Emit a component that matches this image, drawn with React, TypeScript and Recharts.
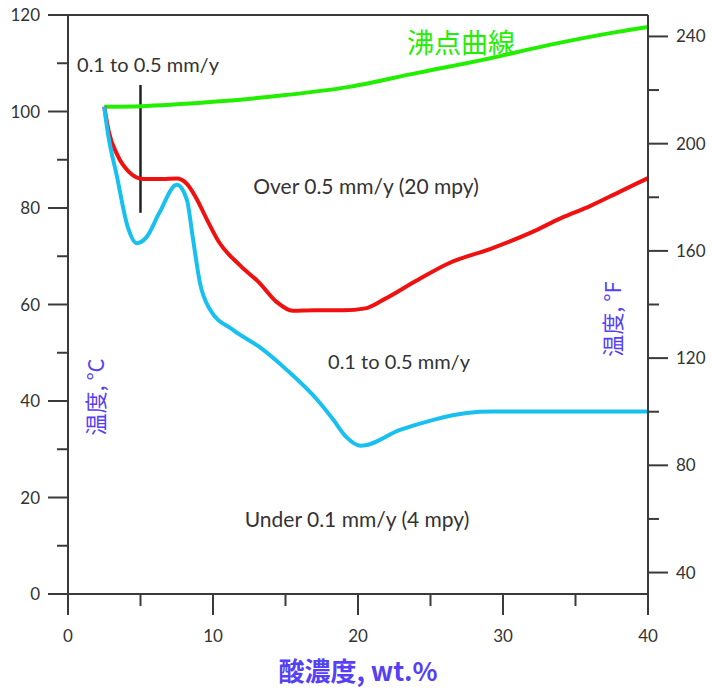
import { LineChart, Line, XAxis, YAxis, ReferenceLine } from 'recharts'

// boiling point curve (沸点曲線)
const boilX = [2.5, 5, 10, 15, 19.4, 24.1, 28.6, 33.2, 37.9, 40]
const boilC = [101, 101.1, 102, 103.4, 105.1, 108, 110.7, 113.8, 116.5, 117.5]

// 0.5 mm/y (20 mpy) iso-corrosion line
const redX = [2.5, 2.8, 3.4, 4.2, 5.2, 6.5, 7.5, 8.2, 8.8, 9.6, 10.4, 11.9, 13.2, 14.4, 15.5, 17, 19, 20.5, 21.7, 23.9, 26.3, 29.1, 32, 34, 36, 38, 40]
const redC = [101, 96, 91, 87.5, 86, 86, 86.1, 85, 82.3, 77.5, 73, 68, 64.5, 60.5, 58.7, 58.8, 58.8, 59.2, 60.9, 64.7, 68.6, 71.5, 75, 77.9, 80.4, 83.3, 86.2]

// 0.1 mm/y (4 mpy) iso-corrosion line
const cyanX = [2.5, 2.7, 3.4, 4.1, 4.75, 5.4, 6.3, 7.5, 8.2, 8.6, 9.1, 9.8, 11.4, 13.2, 15.1, 17.2, 18.3, 19.2, 20.2, 22.9, 25.2, 27.5, 29.3, 32, 36, 40]
const cyanC = [101, 96.5, 86.2, 76.3, 72.7, 73.9, 79, 84.8, 81.7, 74, 64.5, 58.9, 54.7, 51.2, 46.4, 40.2, 36.1, 32.5, 30.7, 34, 36.1, 37.5, 37.8, 37.8, 37.8, 37.8]

const xTicks = [0, 5, 10, 15, 20, 25, 30, 35, 40]
const cTicks = [0, 10, 20, 30, 40, 50, 60, 70, 80, 90, 100, 110, 120]
const fTicks = [40, 60, 80, 100, 120, 140, 160, 180, 200, 220, 240]

const toPoints = (xs: number[], ys: number[]) => xs.map((x, i) => ({ x, t: ys[i] }))

const AXIS = '#3a3a3a'
const TXT = '#333'
const FONT = 'Lato, "Open Sans", sans-serif'
const CJK = '"Noto Sans CJK JP", "Noto Sans", sans-serif'
const BLUE = '#5540f5'
const GREEN = '#22ee00'

function LeftTick({ x, y, payload }: any) {
  const major = payload.value % 20 === 0
  return (
    <g>
      <line x1={x - (major ? 20 : 11)} x2={x} y1={y} y2={y} stroke={AXIS} strokeWidth={2} />
      {major && (
        <text x={x - 28} y={y} dy={6} textAnchor="end" fontSize={17} fill={TXT} fontFamily={FONT}>
          {payload.value}
        </text>
      )}
    </g>
  )
}

function RightTick({ x, y, payload }: any) {
  const major = (payload.value - 40) % 40 === 0
  return (
    <g>
      <line x1={x} x2={x + (major ? 20 : 11)} y1={y} y2={y} stroke={AXIS} strokeWidth={2} />
      {major && (
        <text x={x + 28} y={y} dy={6} textAnchor="start" fontSize={17} fill={TXT} fontFamily={FONT}>
          {payload.value}
        </text>
      )}
    </g>
  )
}

function BottomTick({ x, y, payload }: any) {
  const major = payload.value % 10 === 0
  return (
    <g>
      <line x1={x} x2={x} y1={y} y2={y + (major ? 21 : 12)} stroke={AXIS} strokeWidth={2} />
      {major && (
        <text x={x} y={y + 48} textAnchor="middle" fontSize={17} fill={TXT} fontFamily={FONT}>
          {payload.value}
        </text>
      )}
    </g>
  )
}

export default function App() {
  return (
    <div style={{ position: 'absolute', left: 0, top: 0, width: 712, height: 693, background: '#fff' }}>
      <LineChart width={712} height={693} margin={{ top: 15, right: 0, bottom: 0, left: 0 }}>
        <XAxis
          type="number"
          dataKey="x"
          domain={[0, 40]}
          ticks={xTicks}
          interval={0}
          height={99}
          tickSize={0}
          tickMargin={0}
          tick={<BottomTick />}
          axisLine={{ stroke: AXIS, strokeWidth: 2 }}
          allowDuplicatedCategory={false}
        />
        <YAxis
          yAxisId="c"
          type="number"
          domain={[0, 120]}
          ticks={cTicks}
          interval={0}
          width={68}
          tickSize={0}
          tickMargin={0}
          tick={<LeftTick />}
          axisLine={{ stroke: AXIS, strokeWidth: 2 }}
          allowDataOverflow
        />
        <YAxis
          yAxisId="f"
          orientation="right"
          type="number"
          domain={[32, 248]}
          ticks={fTicks}
          interval={0}
          width={64}
          tickSize={0}
          tickMargin={0}
          tick={<RightTick />}
          axisLine={{ stroke: AXIS, strokeWidth: 2 }}
          allowDataOverflow
        />
        <ReferenceLine yAxisId="c" y={120} stroke={AXIS} strokeWidth={2} />
        <ReferenceLine
          yAxisId="c"
          segment={[{ x: 5, y: 105.5 }, { x: 5, y: 79 }]}
          stroke="#222"
          strokeWidth={2.5}
        />
        <Line
          yAxisId="c"
          data={toPoints(boilX, boilC)}
          dataKey="t"
          type="monotone"
          stroke={GREEN}
          strokeWidth={4}
          dot={false}
          isAnimationActive={false}
        />
        <Line
          yAxisId="c"
          data={toPoints(redX, redC)}
          dataKey="t"
          type="monotone"
          stroke="#f01010"
          strokeWidth={4}
          dot={false}
          isAnimationActive={false}
        />
        <Line
          yAxisId="c"
          data={toPoints(cyanX, cyanC)}
          dataKey="t"
          type="monotone"
          stroke="#18c0f0"
          strokeWidth={4}
          dot={false}
          isAnimationActive={false}
        />
      </LineChart>
      <svg width={712} height={693} style={{ position: 'absolute', left: 0, top: 0, pointerEvents: 'none' }}>
        <g fontFamily={FONT} fill={TXT} textAnchor="middle">
          <text x={148} y={72} fontSize={20}>0.1 to 0.5 mm/y</text>
          <text x={366} y={194} fontSize={21}>Over 0.5 mm/y (20 mpy)</text>
          <text x={399} y={369} fontSize={20}>0.1 to 0.5 mm/y</text>
          <text x={357} y={527} fontSize={21}>Under 0.1 mm/y (4 mpy)</text>
        </g>
        <text x={461} y={53} textAnchor="middle" fontSize={27} fill={GREEN} fontFamily={CJK}>
          沸点曲線
        </text>
        <text x={358} y={681} textAnchor="middle" fontSize={26} fontWeight="bold" fill={BLUE} fontFamily={CJK}>
          酸濃度, wt.%
        </text>
        <text
          transform="translate(104 397) rotate(-90)"
          textAnchor="middle"
          fontSize={22}
          fill={BLUE}
          fontFamily={CJK}
        >
          温度, °C
        </text>
        <text
          transform="translate(621 319) rotate(-90)"
          textAnchor="middle"
          fontSize={22}
          fill={BLUE}
          fontFamily={CJK}
        >
          温度, °F
        </text>
      </svg>
    </div>
  )
}
